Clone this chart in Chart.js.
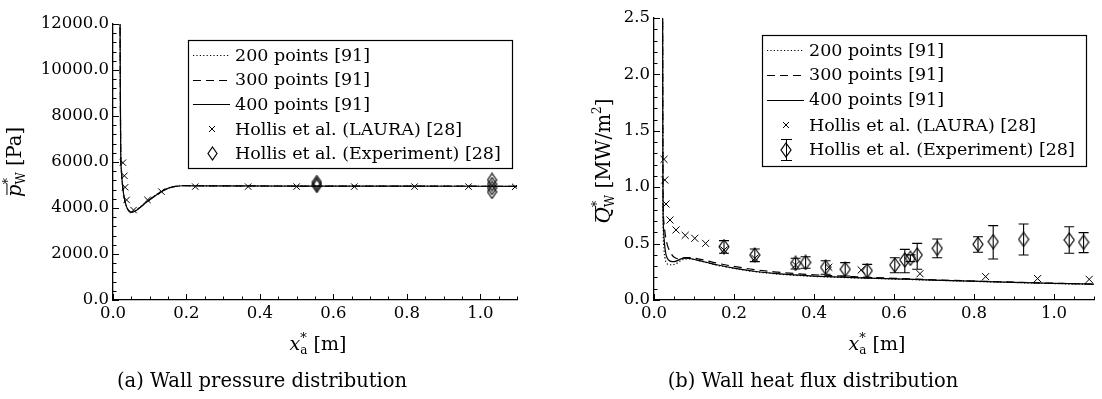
<!DOCTYPE html>
<html>
<head>
<meta charset="utf-8">
<script src="https://cdn.jsdelivr.net/npm/chart.js@4.4.0/dist/chart.umd.min.js"></script>
<style>
  body { margin: 0; background: #fff; }
  .wrap { position: absolute; top: 0; }
</style>
</head>
<body>
<div class="wrap" style="left:0px"><canvas id="chartA" width="545" height="399"></canvas></div>
<div class="wrap" style="left:545px"><canvas id="chartB" width="557" height="399"></canvas></div>
<script>
// ---- wall pressure (a) ----
var p200X = [0.019, 0.020, 0.021, 0.023, 0.026, 0.030, 0.036, 0.043, 0.050, 0.058, 0.070, 0.090, 0.110, 0.130, 0.150, 0.170, 0.190, 0.250, 0.500, 0.800, 1.100];
var p200Y = [13000, 9200, 6600, 5650, 5020, 4520, 4110, 3890, 3830, 3860, 3990, 4250, 4490, 4710, 4870, 4945, 4970, 4965, 4955, 4950, 4945];
var p300X = [0.019, 0.020, 0.021, 0.023, 0.026, 0.030, 0.036, 0.043, 0.050, 0.058, 0.070, 0.090, 0.110, 0.130, 0.150, 0.170, 0.190, 0.250, 0.500, 0.800, 1.100];
var p300Y = [13000, 9000, 6500, 5600, 5000, 4500, 4100, 3880, 3820, 3850, 3980, 4240, 4480, 4700, 4860, 4940, 4970, 4965, 4955, 4950, 4945];
var p400X = [0.019, 0.020, 0.021, 0.023, 0.026, 0.030, 0.036, 0.043, 0.050, 0.058, 0.070, 0.090, 0.110, 0.130, 0.150, 0.170, 0.190, 0.250, 0.500, 0.800, 1.100];
var p400Y = [13000, 8900, 6450, 5580, 4990, 4490, 4090, 3870, 3815, 3845, 3975, 4235, 4475, 4695, 4855, 4935, 4968, 4962, 4952, 4948, 4942];
var lauraPX = [0.027, 0.031, 0.033, 0.037, 0.056, 0.094, 0.132, 0.224, 0.368, 0.500, 0.657, 0.821, 0.968, 1.095];
var lauraPY = [5970, 5400, 4900, 4350, 3910, 4350, 4710, 4930, 4930, 4930, 4930, 4930, 4930, 4920];
var expPX = [0.555, 0.555, 0.555, 1.032, 1.032, 1.032, 1.032];
var expPY = [5130, 5040, 4960, 5220, 5040, 4870, 4700];

// ---- wall heat flux (b) ----
var q200X = [0.0215, 0.022, 0.0225, 0.024, 0.027, 0.031, 0.036, 0.045, 0.055, 0.065, 0.075, 0.09, 0.11, 0.13, 0.16, 0.2, 0.25, 0.3, 0.35, 0.4, 0.5, 0.6, 0.7, 0.8, 0.9, 1.0, 1.1];
var q200Y = [2.7, 1.4, 0.75, 0.5, 0.38, 0.33, 0.315, 0.312, 0.322, 0.345, 0.362, 0.364, 0.35, 0.333, 0.307, 0.28, 0.252, 0.233, 0.219, 0.209, 0.196, 0.186, 0.175, 0.165, 0.155, 0.146, 0.138];
var q300X = [0.0215, 0.022, 0.0225, 0.025, 0.029, 0.034, 0.04, 0.047, 0.055, 0.065, 0.075, 0.09, 0.11, 0.13, 0.16, 0.2, 0.25, 0.3, 0.35, 0.4, 0.5, 0.6, 0.7, 0.8, 0.9, 1.0, 1.1];
var q300Y = [2.7, 1.8, 1.0, 0.68, 0.56, 0.48, 0.43, 0.39, 0.37, 0.365, 0.375, 0.376, 0.365, 0.35, 0.325, 0.298, 0.27, 0.25, 0.235, 0.224, 0.207, 0.192, 0.179, 0.168, 0.158, 0.149, 0.141];
var q400X = [0.0215, 0.022, 0.0225, 0.024, 0.027, 0.031, 0.036, 0.045, 0.055, 0.065, 0.075, 0.09, 0.11, 0.13, 0.16, 0.2, 0.25, 0.3, 0.35, 0.4, 0.5, 0.6, 0.7, 0.8, 0.9, 1.0, 1.1];
var q400Y = [2.7, 1.6, 0.9, 0.62, 0.47, 0.39, 0.355, 0.34, 0.345, 0.36, 0.372, 0.368, 0.352, 0.335, 0.31, 0.283, 0.255, 0.236, 0.222, 0.212, 0.198, 0.188, 0.177, 0.167, 0.157, 0.148, 0.14];
var lauraQX = [0.025, 0.027, 0.030, 0.040, 0.055, 0.078, 0.102, 0.129, 0.175, 0.252, 0.354, 0.437, 0.518, 0.665, 0.829, 0.959, 1.088];
var lauraQY = [1.247, 1.064, 0.851, 0.709, 0.621, 0.573, 0.547, 0.502, 0.443, 0.37, 0.31, 0.29, 0.266, 0.233, 0.207, 0.19, 0.183];
var expQX  = [0.175, 0.252, 0.354, 0.379, 0.429, 0.478, 0.533, 0.602, 0.627, 0.641, 0.658, 0.708, 0.81, 0.848, 0.924, 1.038, 1.074];
var expQY  = [0.473, 0.399, 0.325, 0.333, 0.29, 0.272, 0.26, 0.31, 0.355, 0.37, 0.399, 0.458, 0.494, 0.517, 0.538, 0.532, 0.512];
var expQHi = [0.526, 0.452, 0.37, 0.384, 0.348, 0.331, 0.316, 0.375, 0.449, 0.40, 0.502, 0.541, 0.561, 0.659, 0.674, 0.65, 0.597];
var expQLo = [0.414, 0.34, 0.275, 0.281, 0.228, 0.213, 0.198, 0.242, 0.242, 0.34, 0.272, 0.375, 0.423, 0.363, 0.399, 0.414, 0.42];

// tick labels
var xTicks = [0, 0.2, 0.4, 0.6, 0.8, 1.0];
var pTicks = [0, 2000, 4000, 6000, 8000, 10000, 12000];
var qTicks = [0, 0.5, 1.0, 1.5, 2.0, 2.5];

var legendLabels = ["200 points [91]", "300 points [91]", "400 points [91]",
  "Hollis et al. (LAURA) [28]", "Hollis et al. (Experiment) [28]"];

var FAM = '"DejaVu Serif", serif';
var TICK_SIZE = 16.5;
var LEGEND_SIZE = 17.5;

function pts(xs, ys) {
  return xs.map(function (x, i) { return { x: x, y: ys[i] }; });
}

function diamond(w, h) {
  var c = document.createElement("canvas");
  c.width = w + 2; c.height = h + 2;
  var g = c.getContext("2d");
  g.strokeStyle = "#000"; g.lineWidth = 1.2;
  g.beginPath();
  g.moveTo(c.width / 2, 1); g.lineTo(c.width - 1, c.height / 2);
  g.lineTo(c.width / 2, c.height - 1); g.lineTo(1, c.height / 2);
  g.closePath(); g.stroke();
  return c;
}

function lineSet(xs, ys, dash) {
  return {
    type: "line", data: pts(xs, ys), borderColor: "#000", borderWidth: 1.2,
    borderDash: dash, pointRadius: 0, fill: false, cubicInterpolationMode: "monotone"
  };
}

// text with sub/superscripts; runs = [text, size, italic, dy, stack, bar]
function drawRuns(ctx, runs, cx, cy, rot) {
  ctx.save();
  ctx.translate(cx, cy);
  ctx.rotate(rot);
  ctx.textBaseline = "alphabetic";
  ctx.textAlign = "left";
  var total = 0, prevStart = 0, prevEnd = 0;
  var lay = runs.map(function (r) {
    ctx.font = (r[2] ? "italic " : "") + r[1] + "px " + FAM;
    var w = ctx.measureText(r[0]).width;
    var start = r[4] ? prevStart : prevEnd;
    var end = r[4] ? Math.max(prevEnd, start + w) : start + w;
    prevStart = start; prevEnd = end;
    return { r: r, x: start, w: w };
  });
  total = prevEnd;
  lay.forEach(function (l) {
    var r = l.r;
    ctx.font = (r[2] ? "italic " : "") + r[1] + "px " + FAM;
    ctx.fillStyle = "#000";
    ctx.fillText(r[0], l.x - total / 2, r[3]);
    if (r[5]) {
      ctx.lineWidth = 1;
      ctx.beginPath();
      ctx.moveTo(l.x - total / 2 + 2, -r[1] * 0.72);
      ctx.lineTo(l.x - total / 2 + l.w + 1, -r[1] * 0.72);
      ctx.stroke();
    }
  });
  ctx.restore();
}

// inward major/minor ticks
function ticksPlugin(xMajor, xMinorStep, yMajor, yMinorStep, yMax) {
  return {
    id: "inTicks",
    afterDraw: function (chart) {
      var ctx = chart.ctx, xs = chart.scales.x, ys = chart.scales.y, a = chart.chartArea;
      ctx.save();
      ctx.strokeStyle = "#000"; ctx.lineWidth = 1;
      var i, v, p;
      for (i = 0; i * xMinorStep <= 1.1 + 1e-9; i++) {
        v = i * xMinorStep;
        p = Math.round(xs.getPixelForValue(v)) + 0.5;
        var major = xMajor.some(function (m) { return Math.abs(m - v) < 1e-9; });
        ctx.beginPath(); ctx.moveTo(p, a.bottom); ctx.lineTo(p, a.bottom - (major ? 6 : 3.5)); ctx.stroke();
      }
      for (i = 0; i * yMinorStep <= yMax + 1e-9; i++) {
        v = i * yMinorStep;
        p = Math.round(ys.getPixelForValue(v)) + 0.5;
        var majorY = yMajor.some(function (m) { return Math.abs(m - v) < 1e-6; });
        ctx.beginPath(); ctx.moveTo(a.left, p); ctx.lineTo(a.left + (majorY ? 6 : 3.5), p); ctx.stroke();
      }
      ctx.restore();
    }
  };
}

var errorBars = {
  id: "errorBars",
  afterDatasetsDraw: function (chart) {
    if (!chart.options.plugins.errorBars) return;
    var ctx = chart.ctx, xs = chart.scales.x, ys = chart.scales.y;
    ctx.save();
    ctx.strokeStyle = "#000"; ctx.lineWidth = 1.1;
    expQX.forEach(function (x, i) {
      var px = xs.getPixelForValue(x);
      var top = ys.getPixelForValue(expQHi[i]), bot = ys.getPixelForValue(expQLo[i]);
      ctx.beginPath();
      ctx.moveTo(px, top); ctx.lineTo(px, bot);
      ctx.moveTo(px - 5, top); ctx.lineTo(px + 5, top);
      ctx.moveTo(px - 5, bot); ctx.lineTo(px + 5, bot);
      ctx.stroke();
    });
    ctx.restore();
  }
};

function legendPlugin(box, rows, withBar) {
  return {
    id: "boxLegend",
    afterDraw: function (chart) {
      var ctx = chart.ctx;
      ctx.save();
      ctx.fillStyle = "#fff";
      ctx.fillRect(box.x, box.y, box.w, box.h);
      ctx.strokeStyle = "#000"; ctx.lineWidth = 1.2;
      ctx.strokeRect(box.x + 0.5, box.y + 0.5, box.w, box.h);
      var x0 = box.x + 5, x1 = box.x + 42, xm = box.x + 24;
      var dashes = [[1.2, 2.2], [8, 5], []];
      ctx.lineWidth = 1;
      for (var i = 0; i < 3; i++) {
        var ly = Math.round(rows[i]) + 0.5;
        ctx.setLineDash(dashes[i]);
        ctx.beginPath(); ctx.moveTo(x0, ly); ctx.lineTo(x1, ly); ctx.stroke();
      }
      ctx.setLineDash([]);
      ctx.lineWidth = 1;
      ctx.beginPath();
      ctx.moveTo(xm - 3, rows[3] - 3); ctx.lineTo(xm + 3, rows[3] + 3);
      ctx.moveTo(xm + 3, rows[3] - 3); ctx.lineTo(xm - 3, rows[3] + 3);
      ctx.stroke();
      var d = withBar ? diamond(10, 14) : diamond(9, 13);
      ctx.drawImage(d, Math.round(xm - d.width / 2), Math.round(rows[4] - d.height / 2));
      if (withBar) {
        var cy = Math.round(rows[4]);
        ctx.beginPath();
        ctx.moveTo(xm + 0.5, cy - 10); ctx.lineTo(xm + 0.5, cy + 10);
        ctx.moveTo(xm - 5, cy - 10.5); ctx.lineTo(xm + 6, cy - 10.5);
        ctx.moveTo(xm - 5, cy + 10.5); ctx.lineTo(xm + 6, cy + 10.5);
        ctx.stroke();
      }
      ctx.fillStyle = "#000";
      ctx.font = LEGEND_SIZE + "px " + FAM;
      ctx.textBaseline = "middle";
      legendLabels.forEach(function (t, k) { ctx.fillText(t, box.x + 47, rows[k] + 1); });
      ctx.restore();
    }
  };
}

function labelsPlugin(yRuns, yPos, xCenter, caption, capX) {
  return {
    id: "labels",
    afterDraw: function (chart) {
      var ctx = chart.ctx;
      drawRuns(ctx, yRuns, yPos[0], yPos[1], -Math.PI / 2);
      drawRuns(ctx, [["x", 19, true, 0], ["*", 13, false, -8], ["a", 12, false, 4, true], [" [m]", 19, false, 0]],
        xCenter, 350, 0);
      drawRuns(ctx, [[caption, 19.5, false, 0]], capX, 387, 0);
    }
  };
}

function makeOptions(leftW, padR, padT, yMax, yTicks) {
  return {
    responsive: false,
    animation: false,
    layout: { padding: { left: 0, right: padR, top: padT, bottom: 0 } },
    plugins: { legend: { display: false }, tooltip: { enabled: false } },
    scales: {
      x: {
        type: "linear", min: 0, max: 1.1,
        grid: { display: false, drawTicks: false },
        border: { display: true, color: "#000", width: 1.3 },
        ticks: { color: "#000", padding: 4, font: { family: FAM, size: TICK_SIZE },
          callback: function (v) { return v.toFixed(1); } },
        afterBuildTicks: function (s) { s.ticks = xTicks.map(function (v) { return { value: v }; }); },
        afterFit: function (s) { s.height = 99; }
      },
      y: {
        type: "linear", min: 0, max: yMax,
        grid: { display: false, drawTicks: false },
        border: { display: true, color: "#000", width: 1.3 },
        ticks: { color: "#000", padding: 4, font: { family: FAM, size: TICK_SIZE },
          callback: function (v) { return v.toFixed(1); } },
        afterBuildTicks: function (s) { s.ticks = yTicks.map(function (v) { return { value: v }; }); },
        afterFit: function (s) { s.width = leftW; }
      }
    }
  };
}

// (a) wall pressure
var optA = makeOptions(113, 545 - 517, 24, 12000, pTicks);
new Chart(document.getElementById("chartA"), {
  type: "scatter",
  data: {
    datasets: [
      { data: pts(lauraPX, lauraPY), pointStyle: "crossRot", pointRadius: 4.5, borderColor: "#000", borderWidth: 1, backgroundColor: "#000" },
      { data: pts(expPX, expPY), pointStyle: diamond(9, 13), pointRadius: 5, borderColor: "#000" },
      lineSet(p200X, p200Y, [1.2, 2.2]),
      lineSet(p300X, p300Y, [8, 5]),
      lineSet(p400X, p400Y, [])
    ]
  },
  options: optA,
  plugins: [
    ticksPlugin(xTicks, 0.05, pTicks, 400, 12000),
    legendPlugin({ x: 188, y: 40, w: 324, h: 128 }, [55, 79.5, 104, 129, 153.5], false),
    labelsPlugin([["p", 19.5, true, 0, false, true], ["*", 13, false, -9], ["W", 12, false, 4, true], [" [Pa]", 19.5, false, 0]],
      [21, 162], 318, "(a) Wall pressure distribution", 262)
  ]
});

// (b) wall heat flux
var optB = makeOptions(109, 557 - 549, 18, 2.5, qTicks);
optB.plugins.errorBars = true;
new Chart(document.getElementById("chartB"), {
  type: "scatter",
  data: {
    datasets: [
      { data: pts(lauraQX, lauraQY), pointStyle: "crossRot", pointRadius: 5, borderColor: "#000", borderWidth: 1, backgroundColor: "#000" },
      { data: pts(expQX, expQY), pointStyle: diamond(10, 14), pointRadius: 5, borderColor: "#000" },
      lineSet(q200X, q200Y, [1.2, 2.2]),
      lineSet(q300X, q300Y, [8, 5]),
      lineSet(q400X, q400Y, [])
    ]
  },
  options: optB,
  plugins: [
    ticksPlugin(xTicks, 0.05, qTicks, 0.1, 2.5),
    errorBars,
    legendPlugin({ x: 217, y: 35, w: 324, h: 131 }, [50, 74.5, 99.5, 125, 149.5], true),
    labelsPlugin([["Q", 20, true, 0, false, true], ["*", 13, false, -9], ["W", 12, false, 4, true], [" [MW/m", 20, false, 0], ["2", 12, false, -9], ["]", 20, false, 0]],
      [65, 161], 332, "(b) Wall heat flux distribution", 268)
  ]
});
</script>
</body>
</html>
